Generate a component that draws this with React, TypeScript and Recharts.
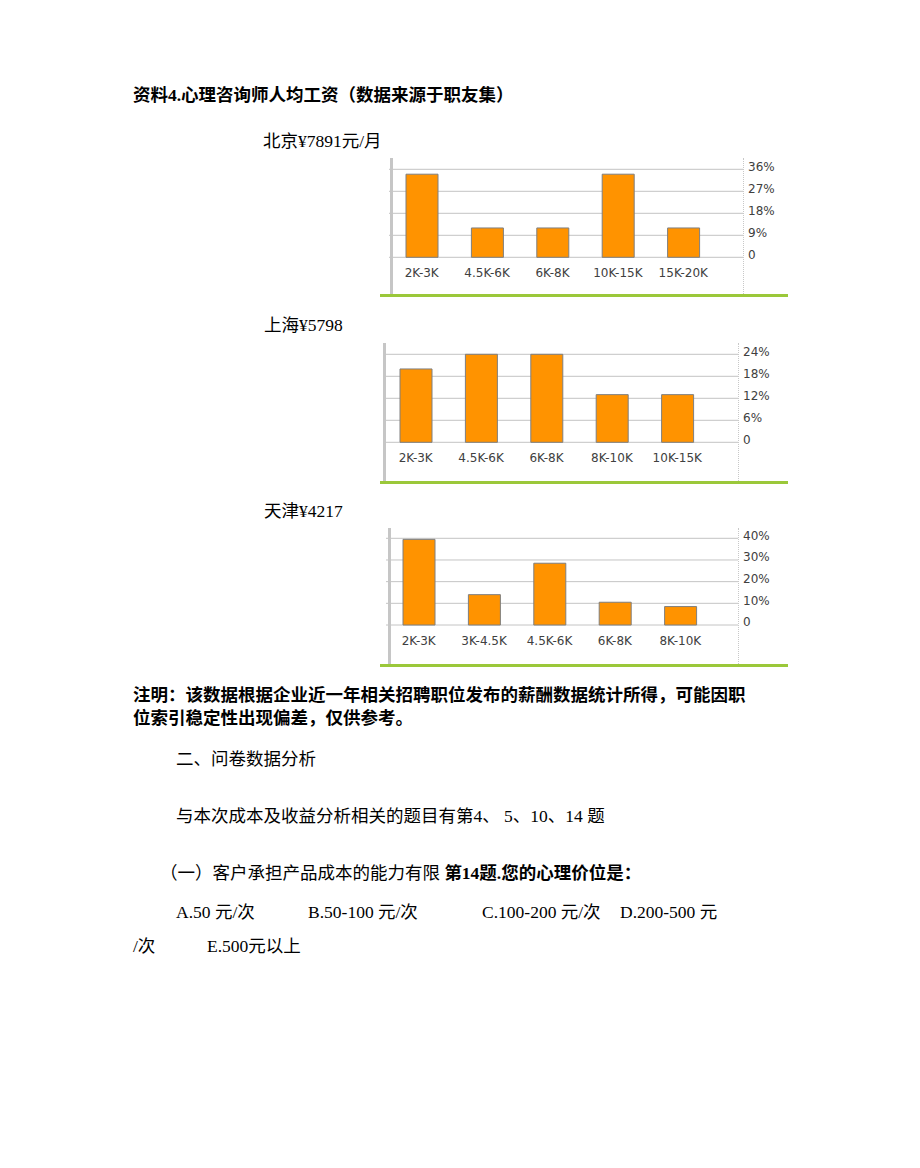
import React from 'react';
import { Bar, BarChart, CartesianGrid, XAxis, YAxis } from 'recharts';

// 北京
const bjCategories = ['2K-3K', '4.5K-6K', '6K-8K', '10K-15K', '15K-20K'];
const bjValues = [34, 12, 12, 34, 12];
const bjTicks = [0, 9, 18, 27, 36];

// 上海
const shCategories = ['2K-3K', '4.5K-6K', '6K-8K', '8K-10K', '10K-15K'];
const shValues = [20, 24, 24, 13, 13];
const shTicks = [0, 6, 12, 18, 24];

// 天津
const tjCategories = ['2K-3K', '3K-4.5K', '4.5K-6K', '6K-8K', '8K-10K'];
const tjValues = [39.5, 14, 28.5, 10.5, 8.5];
const tjTicks = [0, 10, 20, 30, 40];

const TEXT_FONT = "'Liberation Serif', 'Noto Sans CJK SC', serif";
const AXIS_FONT = "'DejaVu Sans', sans-serif";

type Frame = {
  top: number; // chart box top (page px)
  plotLeft: number;
  plotRight: number;
  maxY: number; // y of top tick
  zeroY: number; // y of 0
  barX: number; // grey bar on the left
  frameTop: number;
  greenY: number;
};

const BOX_LEFT = 380;
const BOX_WIDTH = 410;
const BOX_HEIGHT = 150;

function SalaryChart({
  categories,
  values,
  ticks,
  frame,
}: {
  categories: string[];
  values: number[];
  ticks: number[];
  frame: Frame;
}) {
  const data = categories.map((name, i) => ({ name, value: values[i] }));
  const max = ticks[ticks.length - 1];
  const xAxisHeight = 28;
  const marginTop = frame.maxY - frame.top;
  const marginBottom = frame.top + BOX_HEIGHT - frame.zeroY - xAxisHeight;
  const marginLeft = frame.plotLeft - BOX_LEFT;
  const yAxisWidth = BOX_LEFT + BOX_WIDTH - frame.plotRight;
  const bandPad = frame.plotRight - frame.plotLeft - categories.length * 65.4;

  return (
    <>
      <div style={{ position: 'absolute', left: BOX_LEFT, top: frame.top }}>
        <BarChart
          width={BOX_WIDTH}
          height={BOX_HEIGHT}
          data={data}
          margin={{ top: marginTop, right: 0, bottom: marginBottom, left: marginLeft }}
        >
          <CartesianGrid vertical={false} stroke="#c4c4c4" />
          <XAxis
            dataKey="name"
            height={xAxisHeight}
            axisLine={false}
            tickLine={false}
            tickSize={0}
            tickMargin={11}
            interval={0}
            padding={{ left: 0, right: bandPad }}
            tick={{ fill: '#404040', fontSize: 12, fontFamily: AXIS_FONT }}
          />
          <YAxis
            orientation="right"
            width={yAxisWidth}
            domain={[0, max]}
            ticks={ticks}
            interval={0}
            axisLine={false}
            tickLine={false}
            tickSize={0}
            tickMargin={5}
            tickFormatter={(v: number) => (v === 0 ? '0' : `${v}%`)}
            tick={{ fill: '#404040', fontSize: 12, fontFamily: AXIS_FONT, dy: -3 }}
          />
          <Bar
            dataKey="value"
            fill="#ff9300"
            stroke="#7f7f7f"
            strokeWidth={1}
            barSize={32}
            isAnimationActive={false}
          />
        </BarChart>
      </div>
      {/* frame decorations */}
      <div
        style={{
          position: 'absolute',
          left: frame.barX,
          top: frame.frameTop,
          width: 3,
          height: frame.greenY - frame.frameTop,
          background: '#c6c6c6',
        }}
      />
      <div
        style={{
          position: 'absolute',
          left: frame.plotRight,
          top: frame.frameTop,
          width: 0,
          height: frame.greenY - frame.frameTop,
          borderLeft: '1px dotted #c8c8c8',
        }}
      />
      <div
        style={{
          position: 'absolute',
          left: 380,
          top: frame.greenY,
          width: 408,
          height: 3,
          background: '#9bc83a',
        }}
      />
    </>
  );
}

function Line({
  left,
  cy,
  bold,
  children,
}: {
  left: number;
  cy: number;
  bold?: boolean;
  children: React.ReactNode;
}) {
  return (
    <div
      style={{
        position: 'absolute',
        left,
        top: cy - 11,
        lineHeight: '22px',
        fontSize: 17.5,
        fontWeight: bold ? 700 : 400,
        whiteSpace: 'nowrap',
        color: '#000',
      }}
    >
      {children}
    </div>
  );
}

export default function App() {
  return (
    <div
      style={{
        position: 'absolute',
        left: 0,
        top: 0,
        width: 920,
        height: 1168,
        background: '#fff',
        fontFamily: TEXT_FONT,
      }}
    >
      <Line left={133} cy={95} bold>
        资料4.心理咨询师人均工资（数据来源于职友集）
      </Line>

      <Line left={263} cy={141}>北京¥7891元/月</Line>
      <SalaryChart
        categories={bjCategories}
        values={bjValues}
        ticks={bjTicks}
        frame={{
          top: 150,
          plotLeft: 389,
          plotRight: 743,
          maxY: 169.3,
          zeroY: 257.3,
          barX: 390,
          frameTop: 158,
          greenY: 294,
        }}
      />

      <Line left={264} cy={325}>上海¥5798</Line>
      <SalaryChart
        categories={shCategories}
        values={shValues}
        ticks={shTicks}
        frame={{
          top: 335,
          plotLeft: 383,
          plotRight: 738,
          maxY: 354.3,
          zeroY: 442.3,
          barX: 383,
          frameTop: 343,
          greenY: 481,
        }}
      />

      <Line left={264} cy={511}>天津¥4217</Line>
      <SalaryChart
        categories={tjCategories}
        values={tjValues}
        ticks={tjTicks}
        frame={{
          top: 515,
          plotLeft: 386,
          plotRight: 738,
          maxY: 538.3,
          zeroY: 625,
          barX: 388,
          frameTop: 528,
          greenY: 664,
        }}
      />

      <Line left={133} cy={695} bold>
        注明：该数据根据企业近一年相关招聘职位发布的薪酬数据统计所得，可能因职
      </Line>
      <Line left={133} cy={718} bold>
        位索引稳定性出现偏差，仅供参考。
      </Line>

      <Line left={176} cy={759}>二、问卷数据分析</Line>
      <Line left={176} cy={816}>与本次成本及收益分析相关的题目有第4、 5、10、14 题</Line>
      <Line left={160} cy={873}>
        （一）客户承担产品成本的能力有限 <b>第14题.您的心理价位是：</b>
      </Line>

      <Line left={176} cy={912}>A.50 元/次</Line>
      <Line left={308} cy={912}>B.50-100 元/次</Line>
      <Line left={482} cy={912}>C.100-200 元/次</Line>
      <Line left={620} cy={912}>D.200-500 元</Line>
      <Line left={133} cy={946}>/次</Line>
      <Line left={207} cy={946}>E.500元以上</Line>
    </div>
  );
}
